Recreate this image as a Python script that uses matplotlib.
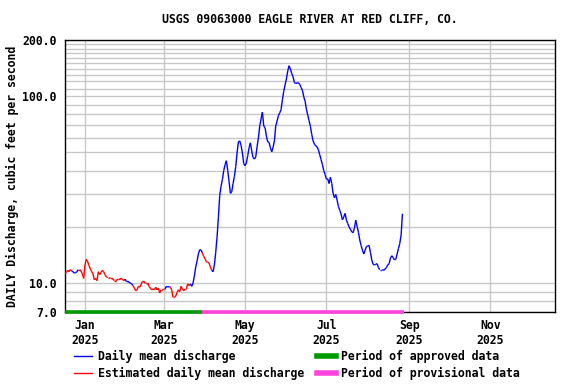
import matplotlib
matplotlib.use('Agg')
import matplotlib.pyplot as plt
import matplotlib.dates as mdates
from matplotlib.collections import LineCollection
from matplotlib.lines import Line2D
from matplotlib.ticker import NullFormatter
import numpy as np
import pandas as pd

plt.rcParams['font.family'] = ['DejaVu Sans Mono']
plt.rcParams['font.weight'] = 'bold'

# Daily mean discharge (cfs), one value per day starting 2024-12-17
start_date = '2024-12-17'
flow = [
    11.2, 11.4, 11.7, 11.5, 11.8, 11.6, 11.5, 11.3, 11.4, 11.5,
    11.8, 11.8, 11.6, 11.2, 10.6, 12.5, 13.4, 13.0, 12.4, 11.9,
    11.5, 11.2, 10.4, 10.6, 10.3, 11.5, 11.1, 11.4, 11.7, 11.5,
    11.1, 10.8, 10.7, 10.7, 10.6, 10.6, 10.5, 10.3, 10.3, 10.4,
    10.5, 10.5, 10.6, 10.5, 10.3, 10.5, 10.2, 10.2, 10.1, 10.0,
    9.9, 9.7, 9.4, 9.1, 9.2, 9.6, 9.5, 9.8, 10.2, 10.2,
    10.0, 10.0, 10.0, 9.6, 9.4, 9.2, 9.3, 9.2, 9.5, 9.2,
    9.4, 8.85, 9.2, 9.2, 9.3, 9.3, 9.6, 9.5, 9.6, 9.5,
    9.2, 8.4, 8.4, 8.5, 8.9, 9.2, 9.0, 9.6, 9.3, 9.1,
    9.3, 9.3, 9.9, 9.7, 9.9, 9.6, 10.0, 10.9, 12.2, 13.1,
    14.3, 15.1, 15.0, 14.5, 13.9, 13.5, 13.0, 12.9, 12.8, 12.2,
    11.7, 11.5, 12.5, 14.6, 17.6, 22.5, 29.4, 33.0, 35.8, 40.0,
    43.0, 45.2, 40.0, 35.0, 30.2, 30.8, 34.1, 37.2, 42.0, 49.7,
    57.0, 57.7, 54.6, 49.7, 43.6, 42.5, 44.0, 48.0, 53.0, 56.3,
    51.0, 47.0, 46.1, 47.3, 53.6, 59.8, 69.3, 75.6, 82.2, 69.3,
    67.9, 61.3, 57.0, 56.6, 53.0, 50.4, 53.3, 57.7, 69.3, 73.6,
    78.8, 81.5, 84.8, 95.8, 106.3, 115.0, 123.8, 136.6, 145.7, 139.7,
    132.4, 127.0, 118.3, 117.0, 117.8, 118.0, 115.8, 111.5, 107.6, 99.4,
    94.1, 85.3, 79.2, 74.0, 68.9, 62.4, 57.7, 55.4, 54.3, 53.6,
    51.6, 48.6, 45.8, 43.0, 40.0, 38.1, 36.0, 36.1, 34.1, 36.9,
    34.1, 30.3, 28.6, 29.8, 27.8, 25.7, 24.5, 23.4, 21.8, 22.6,
    23.6, 21.7, 20.8, 20.0, 19.4, 18.8, 18.6, 19.7, 21.7, 20.1,
    18.7, 17.0, 15.9, 15.0, 14.3, 15.0, 15.7, 15.8, 15.9, 14.6,
    13.3, 12.6, 12.5, 12.6, 12.7, 12.1, 11.8, 11.8, 11.8, 11.7,
    11.9, 12.1, 12.5, 12.7, 13.6, 14.0, 13.7, 13.3, 13.4, 14.3,
    15.3, 16.3, 18.1, 23.5,
]

# Periods of estimated daily values (inclusive)
estimated_spans = [
    ('2024-12-17', '2024-12-22'),
    ('2024-12-28', '2025-01-31'),
    ('2025-02-07', '2025-03-02'),
    ('2025-03-06', '2025-03-21'),
    ('2025-03-31', '2025-04-06'),
]

approved_period = ('2024-12-17', '2025-03-30')
provisional_period = ('2025-03-30', '2025-08-28')
x_range = ('2024-12-17', '2025-12-19')

y_ticks = [7, 10, 100, 200]
y_tick_labels = ['7.0', '10.0', '100.0', '200.0']
y_grid = [8, 9, 20, 30, 40, 50, 60, 70, 80, 90,
          110, 120, 130, 140, 150, 160, 170, 180, 190]

blue = '#0000ff'
red = '#ff0000'
green = '#009900'
pink = '#ff44dd'
grid_color = '#c8c8c8'

dates = pd.date_range(start_date, periods=len(flow), freq='D')
is_est = np.zeros(len(flow), dtype=bool)
for s, e in estimated_spans:
    is_est |= (dates >= pd.Timestamp(s)) & (dates <= pd.Timestamp(e))

fig = plt.figure(figsize=(5.76, 3.84), dpi=100)
ax = fig.add_axes([65 / 576, 1 - 312 / 384, (554.5 - 65) / 576, (312 - 40) / 384])

# discharge line, segment colour depends on estimated flag
xnum = mdates.date2num(dates)
pts = np.column_stack([xnum, flow])
segs = np.stack([pts[:-1], pts[1:]], axis=1)
seg_colors = [red if is_est[i + 1] else blue for i in range(len(segs))]
ax.add_collection(LineCollection(segs, colors=seg_colors, linewidths=1.0, zorder=3))

# approval status bars along the bottom
for (s, e), c in [(approved_period, green), (provisional_period, pink)]:
    ax.plot([pd.Timestamp(s), pd.Timestamp(e)], [7, 7], color=c, lw=2.6,
            solid_capstyle='butt', clip_on=False, zorder=4)

ax.set_yscale('log')
ax.set_ylim(7, 200)
ax.set_xlim(pd.Timestamp(x_range[0]), pd.Timestamp(x_range[1]))
ax.set_yticks(y_ticks)
ax.set_yticklabels(y_tick_labels)
ax.set_yticks(y_grid, minor=True)
ax.yaxis.set_minor_formatter(NullFormatter())

ax.xaxis.set_major_locator(mdates.MonthLocator(bymonth=[1, 3, 5, 7, 9, 11]))
ax.xaxis.set_major_formatter(mdates.DateFormatter('%b\n%Y'))

ax.tick_params(axis='both', which='both', length=0, labelsize=8.3)
ax.tick_params(axis='y', pad=6)
ax.tick_params(axis='x', pad=5)

ax.set_axisbelow(True)
ax.grid(True, axis='y', which='both', color=grid_color, lw=1)
ax.grid(True, axis='x', which='major', color=grid_color, lw=1)
for sp in ax.spines.values():
    sp.set_linewidth(1)
    sp.set_color('black')

ax.set_title('USGS 09063000 EAGLE RIVER AT RED CLIFF, CO.', fontsize=8.3,
             fontweight='bold', pad=12)
fig.text(12 / 576, 1 - 176 / 384, 'DAILY Discharge, cubic feet per second',
         rotation=90, ha='center', va='center', fontsize=8.3, fontweight='bold')

handles = [
    Line2D([], [], color=blue, lw=1),
    Line2D([], [], color=red, lw=1),
    Line2D([], [], color=green, lw=4),
    Line2D([], [], color=pink, lw=4),
]
labels = ['Daily mean discharge', 'Estimated daily mean discharge',
          'Period of approved data', 'Period of provisional data']
fig.legend(handles, labels, ncol=2, loc='upper left',
           bbox_to_anchor=(74 / 576, 1 - 350 / 384), frameon=False,
           borderpad=0, borderaxespad=0, handlelength=1.6, handletextpad=0.45,
           columnspacing=1.15, labelspacing=0.35, fontsize=8.3)

fig.savefig('out.png', dpi=100)
